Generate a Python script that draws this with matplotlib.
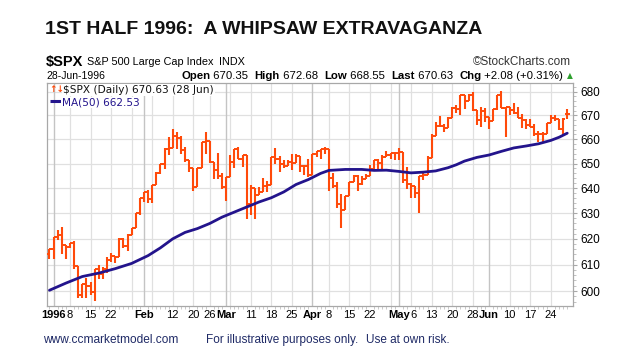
import matplotlib
matplotlib.use('Agg')
import matplotlib.pyplot as plt
import matplotlib.transforms as mtransforms
from matplotlib.ticker import FixedLocator, NullFormatter
import numpy as np
import pandas as pd

# trading calendar: 29-Dec-1995 .. 28-Jun-1996
holidays = ['1996-01-01', '1996-02-19', '1996-04-05', '1996-05-27']
dates = [d.strftime('%Y-%m-%d') for d in pd.bdate_range('1995-12-29', '1996-06-28')
         if d.strftime('%Y-%m-%d') not in holidays]

opens = [614.12, 615.93, 620.73, 621.32, 617.70, 616.71, 618.46, 609.45, 598.48, 602.69,
         601.81, 599.82, 608.44, 606.37, 608.24, 611.83, 613.40, 612.79, 619.96, 617.03,
         621.62, 624.22, 630.15, 636.02, 638.46, 635.84, 641.43, 646.33, 649.93, 656.07,
         656.37, 661.45, 660.51, 655.58, 651.32, 647.98, 640.65, 648.10, 658.86, 659.08,
         650.46, 647.24, 644.75, 640.43, 644.37, 650.81, 655.79, 652.00, 653.65, 633.50,
         640.02, 637.09, 638.55, 640.87, 641.43, 652.65, 651.69, 649.98, 649.19, 650.62,
         650.04, 652.97, 648.91, 648.94, 645.50, 653.73, 655.26, 655.88, 655.86, 644.24,
         640.97, 633.50, 631.18, 636.71, 642.49, 645.00, 641.61, 643.61, 645.07, 647.89,
         651.58, 650.17, 652.87, 653.46, 654.16, 654.17, 654.58, 643.38, 641.63, 640.81,
         638.26, 644.77, 645.44, 652.09, 661.51, 665.60, 665.42, 664.85, 668.91, 673.15,
         672.76, 678.42, 676.00, 678.51, 672.23, 667.93, 671.70, 669.12, 667.68, 672.56,
         678.44, 673.03, 673.31, 672.16, 670.97, 669.04, 667.92, 665.85, 665.16, 662.06,
         661.96, 662.10, 666.84, 668.85, 668.48, 664.39, 670.35]
highs = [615.93, 620.74, 623.25, 624.49, 617.70, 618.46, 619.15, 609.45, 602.71, 604.80,
         603.43, 608.44, 609.93, 609.29, 612.92, 614.38, 613.40, 620.32, 620.15, 621.70,
         624.22, 630.29, 636.18, 638.46, 639.26, 641.43, 646.67, 649.93, 656.54, 661.08,
         664.23, 662.94, 661.36, 656.66, 651.32, 647.98, 648.11, 658.86, 663.00, 659.08,
         650.46, 654.39, 646.21, 644.38, 653.53, 655.80, 656.97, 653.65, 653.65, 641.39,
         640.02, 640.43, 644.03, 642.87, 652.65, 656.18, 653.02, 651.47, 651.43, 654.04,
         653.93, 652.97, 649.48, 651.96, 653.73, 655.27, 655.89, 656.68, 655.86, 646.33,
         642.32, 637.68, 636.71, 642.51, 645.50, 645.26, 645.10, 645.67, 649.39, 651.58,
         651.83, 653.43, 655.14, 654.40, 654.52, 656.44, 654.58, 648.42, 642.07, 640.81,
         644.97, 646.84, 653.18, 661.96, 666.96, 669.71, 666.22, 669.25, 673.42, 674.20,
         678.42, 678.69, 678.81, 679.88, 672.23, 673.57, 673.09, 669.13, 672.60, 678.45,
         680.32, 673.31, 673.61, 675.36, 673.65, 670.44, 668.40, 668.27, 666.36, 663.46,
         662.87, 666.84, 670.29, 669.98, 668.49, 668.90, 672.68]
lows = [612.36, 612.17, 619.56, 613.96, 612.02, 616.49, 608.21, 597.29, 597.54, 597.46,
        598.47, 596.44, 604.70, 604.54, 606.76, 610.96, 610.65, 612.79, 616.62, 615.26,
        621.42, 624.22, 629.48, 634.54, 634.29, 634.01, 641.43, 645.59, 647.93, 653.64,
        656.37, 655.87, 653.86, 650.55, 646.41, 638.79, 640.65, 648.10, 653.83, 650.17,
        643.59, 643.78, 639.60, 635.00, 644.37, 648.29, 651.85, 648.40, 627.63, 629.18,
        627.91, 637.09, 638.55, 638.35, 641.43, 649.80, 646.57, 648.10, 649.19, 647.54,
        650.04, 646.67, 645.35, 644.44, 645.50, 652.80, 651.81, 653.86, 638.90, 640.21,
        632.11, 624.14, 631.18, 636.71, 642.49, 638.81, 641.48, 643.61, 645.07, 647.89,
        647.85, 647.57, 652.87, 651.77, 651.35, 651.58, 642.13, 639.82, 635.98, 635.92,
        630.07, 643.47, 645.44, 652.09, 661.51, 664.95, 663.07, 664.85, 668.91, 670.98,
        670.12, 672.71, 675.94, 671.83, 666.01, 664.99, 667.31, 664.22, 667.68, 672.09,
        673.01, 661.00, 670.15, 670.64, 668.77, 664.59, 664.35, 665.12, 661.34, 658.80,
        658.30, 662.10, 666.84, 667.48, 663.67, 661.56, 668.55]
closes = [615.93, 620.73, 621.32, 617.70, 616.71, 618.46, 609.45, 598.48, 602.69, 601.81,
          599.82, 608.44, 606.37, 608.24, 611.83, 613.40, 612.79, 619.96, 617.03, 621.62,
          624.22, 630.15, 636.02, 638.46, 635.84, 641.43, 646.33, 649.93, 656.07, 656.37,
          661.45, 660.51, 655.58, 651.32, 647.98, 640.65, 648.10, 658.86, 659.08, 650.46,
          647.24, 644.75, 640.43, 644.37, 650.81, 655.79, 652.00, 653.65, 633.50, 640.02,
          637.09, 638.55, 640.87, 641.43, 652.65, 651.69, 649.98, 649.19, 650.62, 650.04,
          652.97, 648.91, 648.94, 645.50, 653.73, 655.26, 655.88, 655.86, 644.24, 640.97,
          633.50, 631.18, 636.71, 642.49, 645.00, 641.61, 643.61, 645.07, 647.89, 651.58,
          650.17, 652.87, 653.46, 654.16, 654.17, 654.58, 643.38, 641.63, 640.81, 638.26,
          644.77, 645.44, 652.09, 661.51, 665.60, 665.42, 664.85, 668.91, 673.15, 672.76,
          678.42, 676.00, 678.51, 672.23, 667.93, 671.70, 669.12, 667.68, 672.56, 678.44,
          673.03, 673.31, 672.16, 670.97, 669.04, 667.92, 665.85, 665.16, 662.06, 661.96,
          662.10, 666.84, 668.85, 668.48, 664.39, 668.55, 670.63]

# 50-day moving average
ma_dates = ['1995-12-29', '1996-01-05', '1996-01-11', '1996-01-17', '1996-01-23', '1996-01-29',
            '1996-02-02', '1996-02-07', '1996-02-12', '1996-02-15', '1996-02-21', '1996-02-26',
            '1996-02-29', '1996-03-05', '1996-03-08', '1996-03-13', '1996-03-18', '1996-03-21',
            '1996-03-26', '1996-03-29', '1996-04-03', '1996-04-08', '1996-04-12', '1996-04-18',
            '1996-04-23', '1996-04-26', '1996-05-01', '1996-05-06', '1996-05-09', '1996-05-14',
            '1996-05-17', '1996-05-21', '1996-05-23', '1996-05-29', '1996-06-03', '1996-06-06',
            '1996-06-11', '1996-06-14', '1996-06-19', '1996-06-24', '1996-06-26', '1996-06-28']
ma_values = [600.3, 603.0, 605.5, 606.8, 608.5, 610.5, 613.5, 616.5, 620.0, 622.5, 624.0, 626.0,
             628.5, 630.5, 632.5, 634.5, 636.2, 638.5, 641.5, 643.5, 646.0, 647.2, 647.6, 647.6,
             647.2, 647.3, 646.8, 646.2, 646.5, 647.0, 648.3, 649.5, 651.0, 652.5, 653.5, 655.0,
             656.4, 657.2, 658.1, 659.5, 660.8, 662.5]

tick_dates = ['1996-01-02', '1996-01-08', '1996-01-15', '1996-01-22', '1996-02-01', '1996-02-12',
              '1996-02-20', '1996-02-26', '1996-03-01', '1996-03-11', '1996-03-18', '1996-03-25',
              '1996-04-01', '1996-04-08', '1996-04-15', '1996-04-22', '1996-05-01', '1996-05-06',
              '1996-05-13', '1996-05-20', '1996-05-28', '1996-06-03', '1996-06-10', '1996-06-17',
              '1996-06-24']
tick_labels = ['1996', '8', '15', '22', 'Feb', '12', '20', '26', 'Mar', '11', '18', '25',
               'Apr', '8', '15', '22', 'May', '6', '13', '20', '28', 'Jun', '10', '17', '24']
bold_labels = ['1996', 'Feb', 'Mar', 'Apr', 'May', 'Jun']
extra_week_lines = ['1996-01-29', '1996-02-05', '1996-03-04', '1996-04-29']
y_ticks = [600, 610, 620, 630, 640, 650, 660, 670, 680]

ORANGE = '#ff4a0a'
NAVY = '#23148c'

pos = {d: i for i, d in enumerate(dates)}
x = np.arange(len(dates))

fig = plt.figure(figsize=(6.29, 3.62), dpi=100)
W, H = 629, 362
ax = fig.add_axes([47 / W, 56 / H, 526 / W, 223 / H])
ax.set_yscale('log')
ax.set_ylim(594.4, 683.7)
ax.set_xlim(-0.6, 127.4)

for y in y_ticks:
    ax.axhline(y, color='#e0e0e0', lw=0.9, zorder=0)
for d in tick_dates + extra_week_lines:
    bold = tick_labels[tick_dates.index(d)] in bold_labels if d in tick_dates else False
    ax.axvline(pos[d], color='#c4c4c4' if bold else '#e0e0e0', lw=1.0 if bold else 0.9, zorder=0)

# OHLC bars
ax.vlines(x, lows, highs, color=ORANGE, lw=1.5, zorder=3)
ax.hlines(opens, x - 0.55, x, color=ORANGE, lw=1.4, zorder=3)
ax.hlines(closes, x, x + 0.55, color=ORANGE, lw=1.4, zorder=3)

ax.plot([pos[d] for d in ma_dates], ma_values, color=NAVY, lw=2.0, zorder=4,
        solid_capstyle='round', solid_joinstyle='round')

# axes styling
for s in ax.spines.values():
    s.set_color('#a8a8a8')
    s.set_linewidth(0.9)
ax.yaxis.tick_right()
ax.yaxis.set_major_locator(FixedLocator(y_ticks))
ax.yaxis.set_major_formatter(plt.FuncFormatter(lambda v, p: '%d' % round(v)))
ax.yaxis.set_minor_locator(FixedLocator(range(596, 684, 2)))
ax.yaxis.set_minor_formatter(NullFormatter())
ax.tick_params(axis='y', which='major', length=3, color='#a8a8a8', labelsize=8.5, pad=2)
ax.tick_params(axis='y', which='minor', length=2, color='#b8b8b8')

ax.set_xticks([pos[d] for d in tick_dates])
ax.set_xticklabels(tick_labels)
ax.set_xticks(x, minor=True)
ax.tick_params(axis='x', which='major', length=0, labelsize=8, pad=3)
ax.tick_params(axis='x', which='minor', length=2, color='#c0c0c0')
for lab in ax.get_xticklabels() + ax.get_yticklabels():
    lab.set_family('Liberation Sans')
for i, lab in enumerate(ax.get_xticklabels()):
    if lab.get_text() in bold_labels:
        lab.set_fontweight('bold')
    if tick_dates[i] == '1996-05-06':
        # cramped against "May" as in the original; nudge right a touch
        lab.set_transform(lab.get_transform() +
                          mtransforms.ScaledTranslation(2 / 100, 0, fig.dpi_scale_trans))

# legend
ax.text(0.004, 0.99, '↑↓', transform=ax.transAxes, color=ORANGE, fontsize=6.5, va='top',
        ha='left', fontweight='bold', zorder=7)
ax.text(0.031, 0.99, r'\$SPX (Daily) 670.63 (28 Jun)', transform=ax.transAxes, fontsize=7.6,
        va='top', ha='left', family='DejaVu Sans', color='#111111', zorder=6,
        bbox=dict(facecolor='white', edgecolor='none', pad=0.6))
ax.plot([0.006, 0.026], [0.918, 0.918], transform=ax.transAxes, color=NAVY, lw=2.2, zorder=6,
        solid_capstyle='butt')
ax.text(0.028, 0.935, 'MA(50) 662.53', transform=ax.transAxes, fontsize=7.6, va='top',
        ha='left', family='DejaVu Sans', color=NAVY, zorder=6,
        bbox=dict(facecolor='white', edgecolor='none', pad=0.6))

renderer = fig.canvas.get_renderer()

# header texts
fig.text(45 / W, 1 - 30 / H, '1ST HALF 1996:  A WHIPSAW EXTRAVAGANZA', fontsize=14,
         fontweight='bold', family='Liberation Sans', va='center', ha='left', color='#111111')

row1 = [(r'\$SPX', 10.5, 'bold', 0), ('S&P 500 Large Cap Index', 7.8, 'normal', 4),
        ('INDX', 7.8, 'normal', 5)]
cur = 46
for txt, fs, fw, gap in row1:
    cur += gap
    t = fig.text(cur / W, 1 - 62 / H, txt, fontsize=fs, fontweight=fw, family='Liberation Sans',
                 va='center', ha='left')
    cur += t.get_window_extent(renderer).width
fig.text(571 / W, 1 - 62 / H, '©StockCharts.com', fontsize=8.5, family='Liberation Sans',
         va='center', ha='right', color='#333333')
fig.text(46 / W, 1 - 76 / H, '28-Jun-1996', fontsize=7.5, family='Liberation Sans',
         va='center', ha='left')

pieces = [('Open', True), (' 670.35  ', False), ('High', True), (' 672.68  ', False),
          ('Low', True), (' 668.55  ', False), ('Last', True), (' 670.63  ', False),
          ('Chg', True), (' +2.08 (+0.31%)', False)]
arts = []
for txt, b in pieces:
    t = fig.text(0, 1 - 76 / H, txt, fontsize=8.2, family='Liberation Sans',
                 fontweight='bold' if b else 'normal', va='center', ha='left')
    arts.append(t)
widths = [a.get_window_extent(renderer).width for a in arts]
cur = 563 - sum(widths)
for a, w in zip(arts, widths):
    a.set_x(cur / W)
    cur += w
fig.text(570 / W, 1 - 76 / H, '▲', fontsize=5.5, color='#2ea02e', va='center', ha='center')

# footer
fig.text(43 / W, 1 - 340 / H, 'www.ccmarketmodel.com', fontsize=8.6, family='Liberation Sans',
         va='center', ha='left', color='#1f2a66')
fig.text(206 / W, 1 - 340 / H, 'For illustrative purposes only.', fontsize=8.5,
         family='Liberation Sans', va='center', ha='left', color='#1f2a66')
fig.text(366 / W, 1 - 340 / H, 'Use at own risk.', fontsize=8.5, family='Liberation Sans',
         va='center', ha='left', color='#1f2a66')

fig.savefig('out.png', dpi=100)
